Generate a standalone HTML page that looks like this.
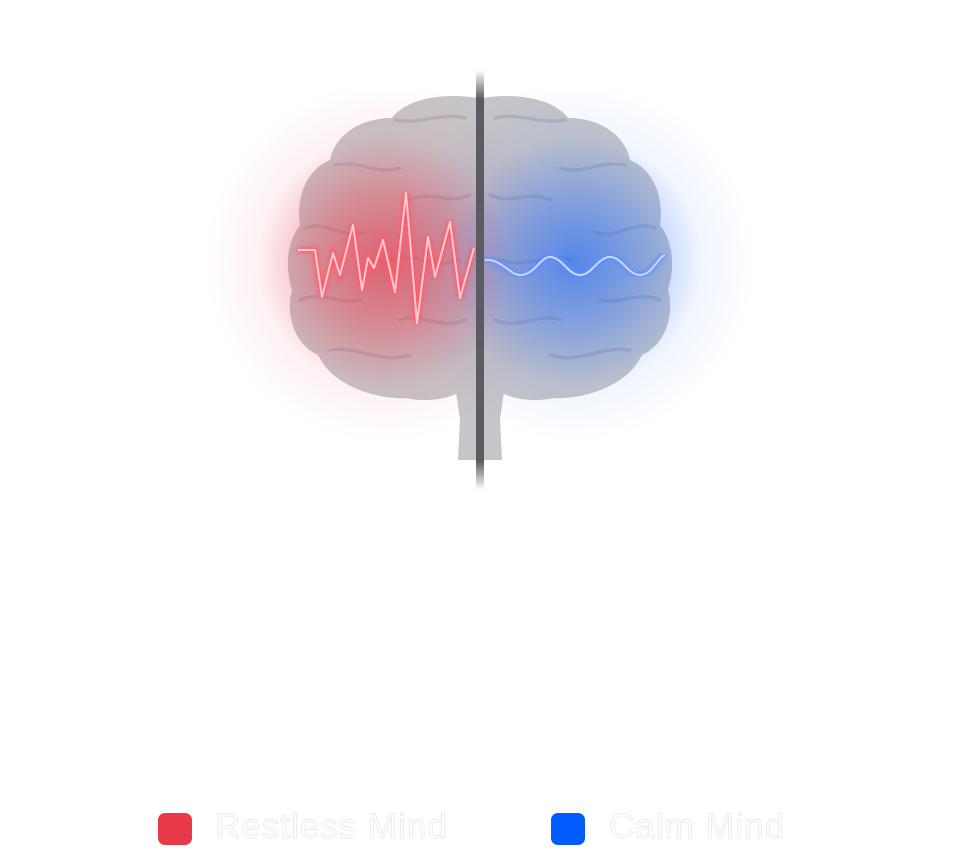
<!DOCTYPE html>
<html><head><meta charset="utf-8"><style>
html,body{margin:0;padding:0;background:#fff;width:960px;height:864px;overflow:hidden;font-family:"Liberation Sans",sans-serif}
.lg{position:absolute;top:813px;width:34px;height:32px;border-radius:7px}
.t{position:absolute;top:807px;font-size:35px;color:#fff;-webkit-text-stroke:0.7px #e6e6e6;letter-spacing:1px}
</style></head><body>
<svg width="960" height="864" style="position:absolute;left:0;top:0">
<defs>
<radialGradient id="rg" cx="385" cy="262" r="180" gradientUnits="userSpaceOnUse">
<stop offset="0" stop-color="#e8364a" stop-opacity="0.7"/><stop offset="0.35" stop-color="#e8364a" stop-opacity="0.42"/><stop offset="0.7" stop-color="#e8364a" stop-opacity="0.07"/><stop offset="1" stop-color="#e8364a" stop-opacity="0"/></radialGradient>
<radialGradient id="bg" cx="575" cy="262" r="180" gradientUnits="userSpaceOnUse">
<stop offset="0" stop-color="#0a5cff" stop-opacity="0.6"/><stop offset="0.35" stop-color="#0a5cff" stop-opacity="0.35"/><stop offset="0.7" stop-color="#0a5cff" stop-opacity="0.06"/><stop offset="1" stop-color="#0a5cff" stop-opacity="0"/></radialGradient>
<linearGradient id="bar" x1="0" y1="70" x2="0" y2="490" gradientUnits="userSpaceOnUse">
<stop offset="0" stop-color="#5a5c62" stop-opacity="0"/><stop offset="0.07" stop-color="#5a5c62"/><stop offset="0.93" stop-color="#5a5c62"/><stop offset="1" stop-color="#5a5c62" stop-opacity="0"/></linearGradient>
<filter id="gl"><feGaussianBlur stdDeviation="2.5"/></filter>
</defs>
<g fill="#c6c6c9">
<path d="M478 98 C440 92 405 100 392 118 C360 118 335 135 330 160 C305 170 296 200 300 225 C285 245 286 270 292 290 C285 315 295 345 318 355 C330 380 360 395 395 398 C420 400 440 392 455 385 L460 420 L458 460 L478 460 Z"/>
<path d="M482 98 C520 92 555 100 568 118 C600 118 625 135 630 160 C655 170 664 200 660 225 C675 245 674 270 668 290 C675 315 665 345 642 355 C630 380 600 395 565 398 C540 400 520 392 505 385 L500 420 L502 460 L482 460 Z"/>
<ellipse cx="425" cy="378" rx="45" ry="22"/><ellipse cx="535" cy="378" rx="45" ry="22"/>
</g>
<g fill="none" stroke="#b3b3b8" stroke-width="3.5" stroke-linecap="round">
<path d="M395 120 C420 125 440 112 465 118"/><path d="M335 165 C360 160 375 175 400 168"/>
<path d="M305 228 C330 220 340 240 365 232"/><path d="M300 300 C320 290 340 305 360 300"/>
<path d="M330 350 C360 345 380 365 410 355"/><path d="M410 200 C430 190 450 205 470 195"/>
<path d="M390 260 C410 250 430 270 460 260"/><path d="M400 320 C420 312 440 330 465 320"/>
<path d="M565 120 C540 125 520 112 495 118"/><path d="M625 165 C600 160 585 175 560 168"/>
<path d="M655 228 C630 220 620 240 595 232"/><path d="M660 300 C640 290 620 305 600 300"/>
<path d="M630 350 C600 345 580 365 550 355"/><path d="M550 200 C530 190 510 205 490 195"/>
<path d="M570 260 C550 250 530 270 500 260"/><path d="M560 320 C540 312 520 330 495 320"/>
</g>
<circle cx="385" cy="262" r="180" fill="url(#rg)"/>
<circle cx="575" cy="262" r="180" fill="url(#bg)"/>
<polyline fill="none" stroke="#ff5a6a" stroke-width="5" filter="url(#gl)" points="298,250 315,250 322,297 333,253 340,275 353,225 362,290 368,258 374,268 383,240 395,292 406,193 417,323 428,237 435,277 450,222 460,298 474,248"/>
<polyline fill="none" stroke="#ffc9cf" stroke-width="2" stroke-linejoin="round" points="298,250 315,250 322,297 333,253 340,275 353,225 362,290 368,258 374,268 383,240 395,292 406,193 417,323 428,237 435,277 450,222 460,298 474,248"/>
<path fill="none" stroke="#5a8cff" stroke-width="5" filter="url(#gl)" d="M485 260 C500 258 510 275 520 275 C535 275 540 257 550 257 C562 257 568 275 580 275 C592 275 598 257 610 257 C622 257 628 275 640 275 C652 275 658 257 665 255"/>
<path fill="none" stroke="#c9d9ff" stroke-width="2" d="M485 260 C500 258 510 275 520 275 C535 275 540 257 550 257 C562 257 568 275 580 275 C592 275 598 257 610 257 C622 257 628 275 640 275 C652 275 658 257 665 255"/>
<rect x="476" y="70" width="8" height="420" fill="url(#bar)"/>
</svg>
<div class="lg" style="left:158px;background:#e83a48"></div>
<div class="t" style="left:215px">Restless Mind</div>
<div class="lg" style="left:551px;background:#005cff"></div>
<div class="t" style="left:609px">Calm Mind</div>
</body></html>
